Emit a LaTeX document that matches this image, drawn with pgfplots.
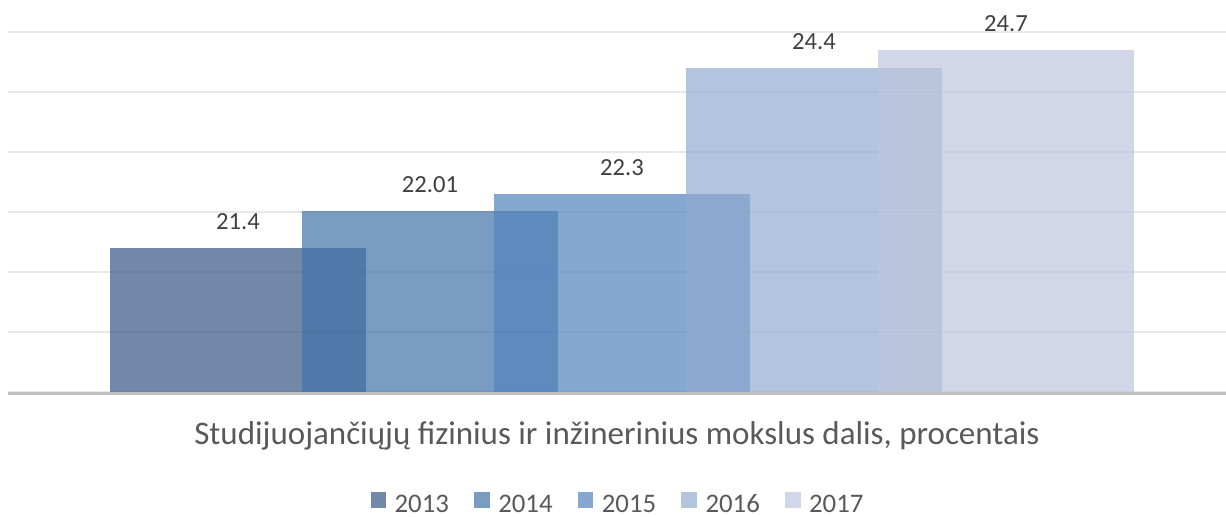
\documentclass[border=0pt]{standalone}
\usepackage{pgfplots}
\pgfplotsset{compat=1.18}
\usepackage{fontspec}
\setmainfont{Carlito}
\definecolor{cA}{RGB}{54,86,131}
\definecolor{cB}{RGB}{66,114,168}
\definecolor{cC}{RGB}{81,131,189}
\definecolor{cD}{RGB}{146,171,208}
\definecolor{cE}{RGB}{189,198,222}
\definecolor{gridgray}{RGB}{232,232,232}
\definecolor{axisgray}{RGB}{191,191,191}
\definecolor{labelgray}{RGB}{64,64,64}
\definecolor{titlegray}{RGB}{89,89,89}
\begin{document}
\begin{tikzpicture}
\path[use as bounding box] (-4pt,-62pt) rectangle (609pt,196pt);
\begin{axis}[
  at={(0pt,0pt)}, anchor=south west,
  scale only axis, width=609pt, height=180pt,
  xmin=8, xmax=1226, ymin=19, ymax=25,
  ytick={19,20,21,22,23,24,25}, yticklabels={},
  xtick=\empty,
  ymajorgrids, grid style={draw=gridgray, line width=0.65pt},
  axis line style={draw=none}, major tick style={draw=none},
  ybar, bar width=256, bar shift=0pt,
  every axis plot/.append style={draw=none, fill opacity=0.7},
  nodes near coords, point meta=explicit symbolic,
  every node near coord/.append style={anchor=base, yshift=9.5pt, font=\fontsize{12.3pt}{14pt}\selectfont, text=labelgray, text opacity=1},
  xlabel={Studijuojančiųjų fizinius ir inžinerinius mokslus dalis, procentais},
  xlabel style={at={(axis description cs:0.5,0)}, anchor=base, yshift=-26pt, font=\fontsize{16.5pt}{19pt}\selectfont, text=titlegray},
  legend columns=5,
  legend image code/.code={\fill[#1] (0pt,-1.5pt) rectangle (7.75pt,6.25pt);},
  legend style={at={(axis description cs:0.5,0)}, anchor=center, yshift=-56pt, draw=none, fill=none,
    font=\fontsize{13.4pt}{15pt}\selectfont, text=titlegray,
    nodes={inner sep=0pt},
    /tikz/every odd column/.append style={column sep=4.3pt},
    /tikz/every even column/.append style={column sep=12.6pt}},
]
\addplot[fill=cA] coordinates {(238,21.4) [21.4]};
\addplot[fill=cB] coordinates {(430,22.01) [22.01]};
\addplot[fill=cC] coordinates {(622,22.3) [22.3]};
\addplot[fill=cD] coordinates {(814,24.4) [24.4]};
\addplot[fill=cE] coordinates {(1006,24.7) [24.7]};
\legend{2013,2014,2015,2016,2017}
\end{axis}
\draw[axisgray, line width=1.5pt] (0pt,-0.75pt) -- (609pt,-0.75pt);
\end{tikzpicture}
\end{document}
